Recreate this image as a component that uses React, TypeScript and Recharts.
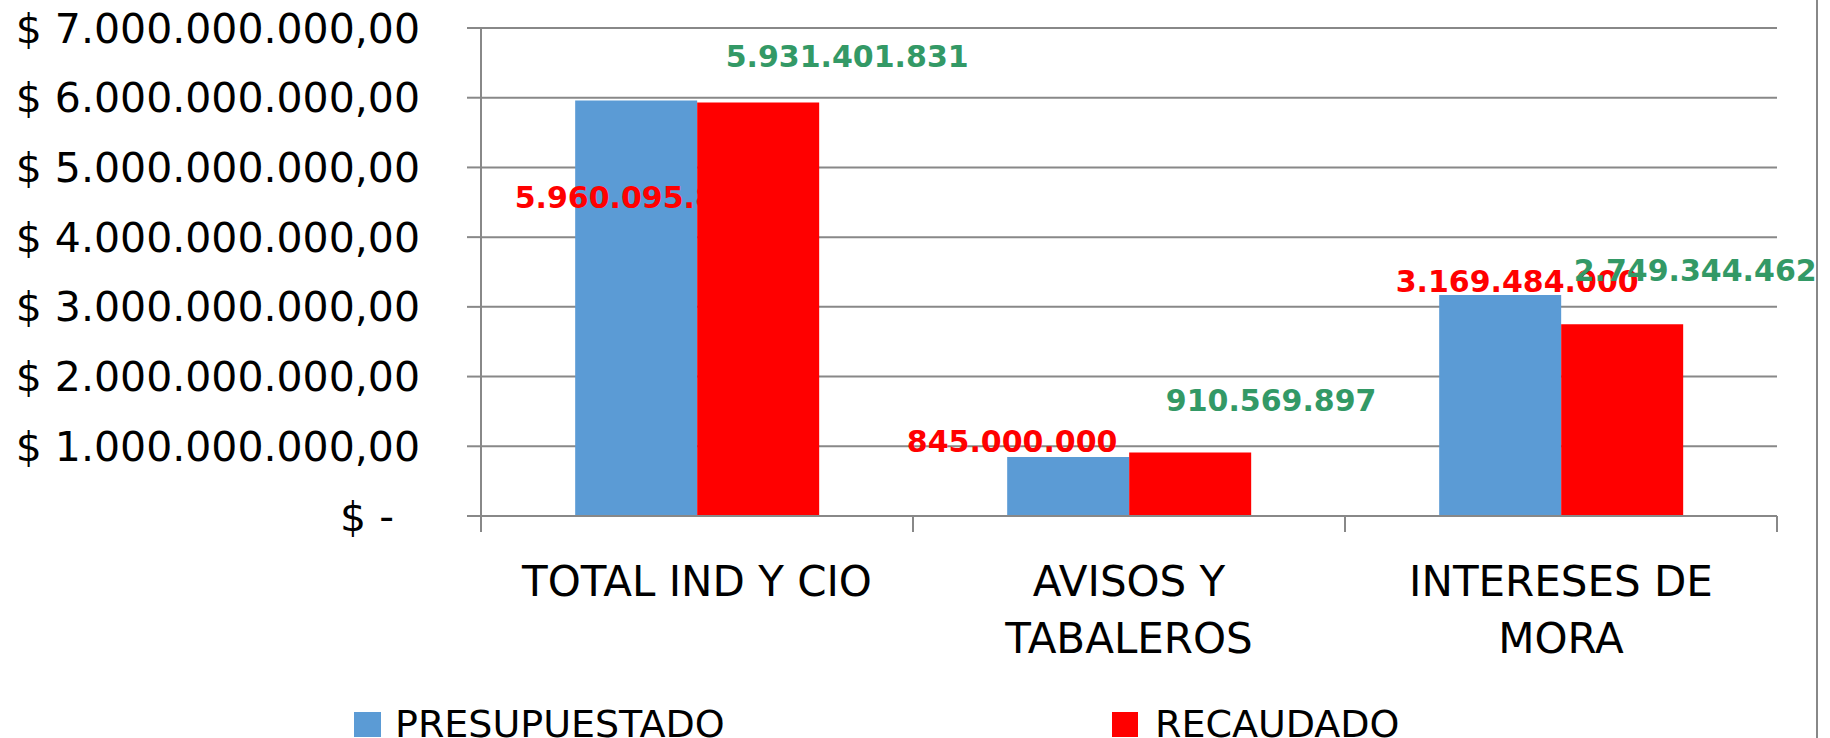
import React from 'react';
import { BarChart, Bar, XAxis, YAxis, CartesianGrid, LabelList, Legend } from 'recharts';

const CATEGORIES = ['TOTAL IND Y CIO', 'AVISOS Y TABALEROS', 'INTERESES DE MORA'];
const PRESUPUESTADO = [5960095800, 845000000, 3169484000];
const RECAUDADO = [5931401831, 910569897, 2749344462];
const Y_TICKS = [0, 1e9, 2e9, 3e9, 4e9, 5e9, 6e9, 7e9];

// hand placed label offsets (from bar top centre), like the original sheet
const PRES_LABEL_OFFSET = [[0, 97], [-56, -16], [17, -14]];
const REC_LABEL_OFFSET = [[89, -46], [81, -52], [73, -54]];

const BLUE = '#5B9BD5';
const RED = '#FF0000';
const GREEN = '#339966';
const GRID = '#888888';

const W = 1830;
const H = 738;
const PLOT_LEFT = 481;
const PLOT_RIGHT = 1777;
const BAND = (PLOT_RIGHT - PLOT_LEFT) / CATEGORIES.length;
const CAT_FONT = 42;

const data = CATEGORIES.map((name, i) => ({
    name,
    presupuestado: PRESUPUESTADO[i],
    recaudado: RECAUDADO[i],
}));

const dots = (n: number) => Math.round(n).toString().replace(/\B(?=(\d{3})+(?!\d))/g, '.');

const formatY = (v: number) => (v === 0 ? '$ -\u00A0\u00A0' : `$ ${dots(v)},00`);

let ctx: CanvasRenderingContext2D | null = null;
const measure = (s: string) => {
    if (!ctx) {
        ctx = document.createElement('canvas').getContext('2d');
        if (ctx) ctx.font = `${CAT_FONT}px "DejaVu Sans"`;
    }
    return ctx ? ctx.measureText(s).width : s.length * CAT_FONT * 0.65;
};

const wrap = (s: string, maxW: number) => {
    const lines: string[] = [];
    let cur = '';
    s.split(' ').forEach((w) => {
        const next = cur ? `${cur} ${w}` : w;
        if (cur && measure(next) > maxW) {
            lines.push(cur);
            cur = w;
        } else {
            cur = next;
        }
    });
    if (cur) lines.push(cur);
    return lines;
};

const makeLabel = (offsets: number[][], color: string) => (props: any) => {
    const { x, y, width, value, index } = props;
    const [dx, dy] = offsets[index] || [0, 0];
    return (
        <text
            x={x + width / 2 + dx}
            y={y + dy}
            textAnchor="middle"
            dominantBaseline="central"
            fill={color}
            fontFamily="DejaVu Sans"
            fontWeight="bold"
            fontSize={30}
        >
            {dots(value)}
        </text>
    );
};

const CategoryTick = (props: any) => {
    const { x, y, payload, index } = props;
    const left = x - BAND / 2;
    const lines = wrap(String(payload.value), 400);
    return (
        <g>
            <line x1={left} y1={y} x2={left} y2={y + 16} stroke={GRID} strokeWidth={2} />
            {index === CATEGORIES.length - 1 && (
                <line x1={left + BAND} y1={y} x2={left + BAND} y2={y + 16} stroke={GRID} strokeWidth={2} />
            )}
            <text x={x} y={y + 80} textAnchor="middle" fill="#000" fontFamily="DejaVu Sans" fontSize={CAT_FONT}>
                {lines.map((l, i) => (
                    <tspan key={i} x={x} dy={i === 0 ? 0 : 57}>
                        {l}
                    </tspan>
                ))}
            </text>
        </g>
    );
};

const LegendContent = () => (
    <div style={{ position: 'relative', width: W, height: 40, fontFamily: 'DejaVu Sans', fontSize: 38, color: '#000' }}>
        <div style={{ position: 'absolute', left: 354, top: 0, display: 'flex', alignItems: 'center' }}>
            <span style={{ width: 27, height: 25, background: BLUE, marginRight: 14, display: 'inline-block' }} />
            <span>PRESUPUESTADO</span>
        </div>
        <div style={{ position: 'absolute', left: 1112, top: 0, display: 'flex', alignItems: 'center' }}>
            <span style={{ width: 26, height: 25, background: RED, marginRight: 17, display: 'inline-block' }} />
            <span>RECAUDADO</span>
        </div>
    </div>
);

export default function App() {
    return (
        <div style={{ position: 'absolute', left: 0, top: 0, width: W, height: H, background: '#fff', overflow: 'hidden' }}>
            <div style={{ position: 'absolute', left: 1816, top: 0, width: 2, height: H, background: GRID }} />
            <BarChart
                width={W}
                height={H}
                data={data}
                margin={{ top: 28, right: W - PLOT_RIGHT, bottom: 0, left: 0 }}
                barCategoryGap="21.8%"
                barGap={0}
            >
                <CartesianGrid vertical={false} stroke={GRID} strokeWidth={2} />
                <XAxis
                    dataKey="name"
                    height={222}
                    axisLine={{ stroke: GRID, strokeWidth: 2 }}
                    tickLine={false}
                    tickSize={0}
                    tickMargin={0}
                    interval={0}
                    tick={<CategoryTick />}
                />
                <YAxis
                    width={PLOT_LEFT}
                    domain={[0, 7e9]}
                    ticks={Y_TICKS}
                    interval={0}
                    tickFormatter={formatY}
                    axisLine={{ stroke: GRID, strokeWidth: 2 }}
                    tickLine={{ stroke: GRID, strokeWidth: 2 }}
                    tickSize={14}
                    tickMargin={47}
                    tick={{ fill: '#000', fontFamily: 'DejaVu Sans', fontSize: 41 }}
                />
                <Legend
                    layout="vertical"
                    align="center"
                    verticalAlign="middle"
                    content={<LegendContent />}
                    wrapperStyle={{ position: 'absolute', left: 0, top: 702, width: W }}
                />
                <Bar dataKey="presupuestado" name="PRESUPUESTADO" fill={BLUE} isAnimationActive={false}>
                    <LabelList dataKey="presupuestado" content={makeLabel(PRES_LABEL_OFFSET, RED)} />
                </Bar>
                <Bar dataKey="recaudado" name="RECAUDADO" fill={RED} isAnimationActive={false}>
                    <LabelList dataKey="recaudado" content={makeLabel(REC_LABEL_OFFSET, GREEN)} />
                </Bar>
            </BarChart>
        </div>
    );
}
